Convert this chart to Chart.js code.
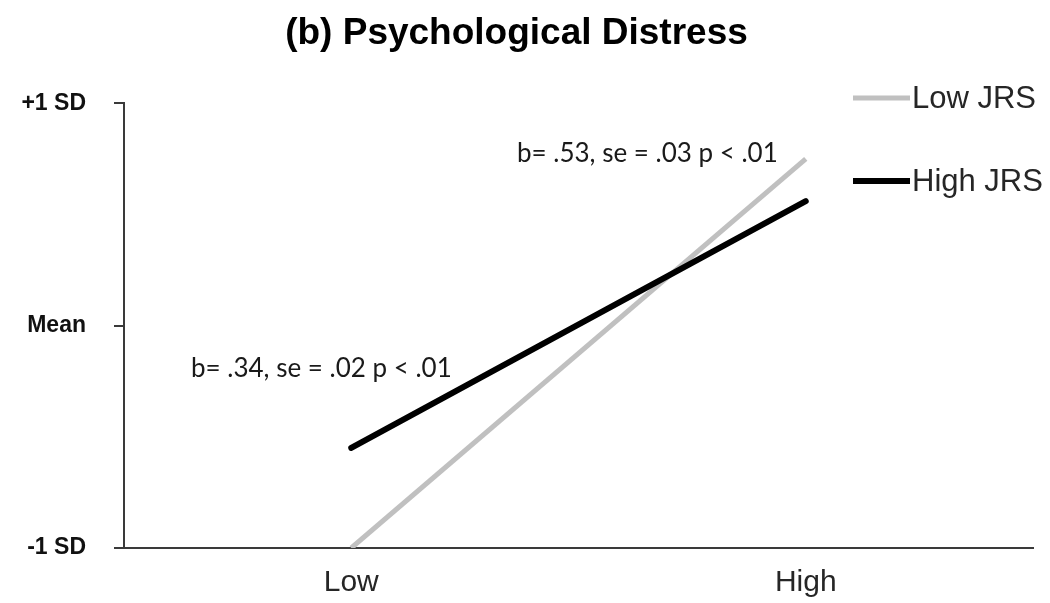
<!DOCTYPE html>
<html>
<head>
<meta charset="utf-8">
<script src="https://cdn.jsdelivr.net/npm/chart.js@4"></script>
<style>
  html, body { margin: 0; padding: 0; background: #fff; }
  #wrap { width: 1050px; height: 603px; }
</style>
</head>
<body>
<div id="wrap"><canvas id="chart" width="1050" height="603"></canvas></div>
<script>
// data (in SD units)
const categories = ["Low", "High"];
const seriesNames = ["Low JRS", "High JRS"];
const lowJRS = [-1.0, 0.75];
const highJRS = [-0.55, 0.56];
const yTickValues = [-1, 0, 1];
const yTickLabels = ["-1 SD", "Mean", "+1 SD"];
const slopeNotes = ["b= .53, se = .03 p < .01", "b= .34, se = .02 p < .01"];

const AXIS = "#3a3a3a";

// legend + slope notes drawn on top of the plot
const overlay = {
  id: "overlay",
  afterDraw(chart) {
    const ctx = chart.ctx;
    ctx.save();
    // legend at the top right
    const legendY = [98, 181];
    chart.data.datasets.forEach((ds, i) => {
      ctx.strokeStyle = ds.borderColor;
      ctx.lineWidth = ds.borderWidth;
      ctx.beginPath();
      ctx.moveTo(853, legendY[i]);
      ctx.lineTo(910, legendY[i]);
      ctx.stroke();
      ctx.fillStyle = "#262626";
      ctx.font = "31px 'Liberation Sans', Arial, sans-serif";
      ctx.textBaseline = "middle";
      ctx.textAlign = "left";
      ctx.fillText(ds.label, 912, legendY[i] + 1);
    });
    // slope notes
    ctx.fillStyle = "#1a1a1a";
    ctx.font = "26px Lato, 'Liberation Sans', sans-serif";
    ctx.textBaseline = "alphabetic";
    ctx.fillText(slopeNotes[0], 517, 162);
    ctx.fillText(slopeNotes[1], 191, 377);
    ctx.restore();
  }
};

new Chart(document.getElementById("chart"), {
  type: "line",
  data: {
    labels: categories,
    datasets: [
      {
        label: seriesNames[0],
        data: lowJRS,
        borderColor: "#c0c0c0",
        borderWidth: 5,
        pointRadius: 0,
        tension: 0,
        order: 1
      },
      {
        label: seriesNames[1],
        data: highJRS,
        borderColor: "#000000",
        borderWidth: 6,
        borderCapStyle: "round",
        pointRadius: 0,
        tension: 0,
        order: 0
      }
    ]
  },
  options: {
    responsive: false,
    animation: false,
    layout: { padding: { left: 0, right: 17, top: 0, bottom: 0 } },
    plugins: {
      legend: { display: false },
      tooltip: { enabled: false },
      title: {
        display: true,
        text: "(b) Psychological Distress",
        color: "#000",
        font: { family: "'Liberation Sans', Arial, sans-serif", size: 37, weight: "bold" },
        padding: { top: 12, bottom: 47 }
      }
    },
    scales: {
      x: {
        type: "category",
        offset: true,
        grid: { display: false, drawTicks: false },
        border: { display: true, color: AXIS, width: 2 },
        ticks: {
          color: "#262626",
          padding: 17,
          font: { family: "'Liberation Sans', Arial, sans-serif", size: 30 }
        },
        afterFit(scale) { scale.height = 55; }
      },
      y: {
        min: -1,
        max: 1,
        grid: { drawOnChartArea: false, drawTicks: true, tickLength: 10, color: AXIS, lineWidth: 2 },
        border: { display: true, color: AXIS, width: 2 },
        ticks: {
          stepSize: 1,
          padding: 28,
          color: "#111",
          font: { family: "'Liberation Sans', Arial, sans-serif", size: 23, weight: "bold" },
          callback: (v) => yTickLabels[yTickValues.indexOf(v)]
        },
        afterFit(scale) { scale.width = 124; }
      }
    }
  },
  plugins: [overlay]
});
</script>
</body>
</html>
